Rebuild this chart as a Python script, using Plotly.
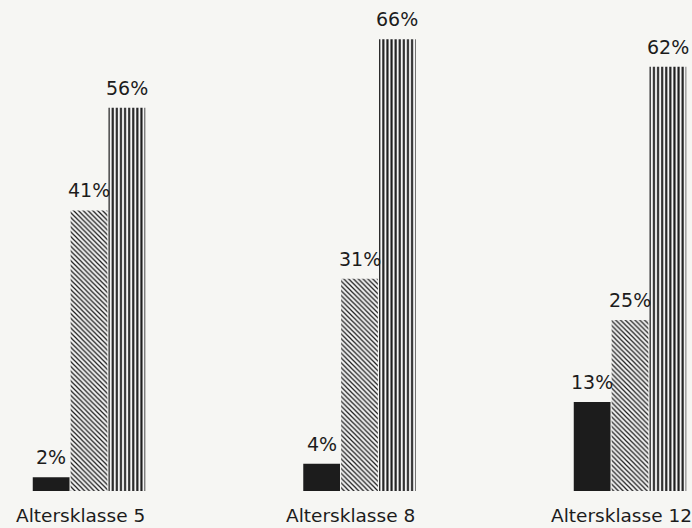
import plotly.graph_objects as go

categories = ["Altersklasse 5", "Altersklasse 8", "Altersklasse 12"]
series_names = ["Serie A", "Serie B", "Serie C"]
values_a = [2, 4, 13]
values_b = [41, 31, 25]
values_c = [56, 66, 62]
all_values = [values_a, values_b, values_c]

ink = "#1c1c1c"
bg = "#f6f6f3"
font_family = "DejaVu Sans, Arial, sans-serif"

x_pos = list(range(len(categories)))
bargap = 0.58
bar_w = (1 - bargap) / 3

styles = [
    dict(color=ink, pattern=dict(shape="")),
    dict(color="#ffffff", pattern=dict(shape="\\", fgcolor=ink, bgcolor="#f4f4f4", size=3.4, solidity=0.36, fillmode="replace")),
    dict(color="#ffffff", pattern=dict(shape="|", fgcolor=ink, bgcolor="#f4f4f4", size=4.1, solidity=0.5, fillmode="replace")),
]

fig = go.Figure()
annotations = []
for i, (name, vals) in enumerate(zip(series_names, all_values)):
    st = styles[i]
    fig.add_trace(go.Bar(
        x=x_pos, y=vals, name=name,
        marker=dict(color=st["color"], pattern=st["pattern"], line=dict(width=0)),
        showlegend=False, hoverinfo="skip",
    ))
    for xp, v in zip(x_pos, vals):
        annotations.append(dict(
            x=xp + (i - 1) * bar_w, y=v, text=f"{v}%",
            showarrow=False, yanchor="bottom", xanchor="center", yshift=7,
            font=dict(family=font_family, size=19, color=ink),
        ))

# category labels below each group
for xp, cat in zip(x_pos, categories):
    annotations.append(dict(
        x=xp, y=0, text=cat, showarrow=False,
        yanchor="top", xanchor="center", yshift=-12, xshift=-9,
        font=dict(family=font_family, size=18.5, color=ink),
    ))

fig.update_layout(
    width=692, height=528,
    margin=dict(l=0, r=0, t=12, b=37),
    paper_bgcolor=bg, plot_bgcolor=bg,
    barmode="group", bargap=bargap, bargroupgap=0.03,
    annotations=annotations,
    xaxis=dict(
        range=[-89 / 270.5, 2 + 62 / 270.5],
        showticklabels=False, showgrid=False, zeroline=False, showline=False,
    ),
    yaxis=dict(range=[0, 70], visible=False, showgrid=False, zeroline=False),
)

fig.write_html(
    "out.html",
    config={"displayModeBar": False},
    post_script="document.body.style.margin='0';document.body.style.overflow='hidden';",
)
